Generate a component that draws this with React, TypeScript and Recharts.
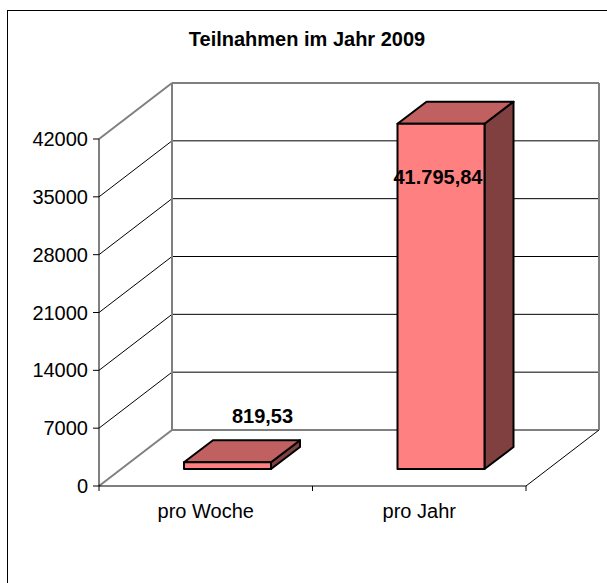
import { Bar, BarChart, CartesianGrid, LabelList, XAxis, YAxis } from "recharts";

const categories = ["pro Woche", "pro Jahr"];
const teilnahmen = [819.53, 41795.84];
const yTicks = [0, 7000, 14000, 21000, 28000, 35000, 42000];

const data = categories.map((name, i) => ({ name, value: teilnahmen[i] }));

const W = 607;
const H = 583;
const MARGIN = { top: 139, right: 81, bottom: 57, left: 0 };
const Y_AXIS_W = 99;
const X_AXIS_H = 40;
const PLOT_TOP = MARGIN.top;
const PLOT_BOTTOM = H - MARGIN.bottom - X_AXIS_H;
const PLOT_W = W - MARGIN.left - MARGIN.right - Y_AXIS_W;
const BAND = PLOT_W / categories.length;

// 3D projection offsets: back wall and bar depth
const DEPTH_X = 73;
const DEPTH_Y = 56;
const BAR_DX = 22;
const BAR_DY = 17;
const BAR_DEPTH_X = 29;
const BAR_DEPTH_Y = 22;

const FONT = '"Liberation Sans", Arial, Helvetica, sans-serif';
const WALL = "#808080";

const formatDe = (v: number): string => {
  const [int, dec] = v.toFixed(2).split(".");
  return `${int.replace(/\B(?=(\d{3})+(?!\d))/g, ".")},${dec}`;
};

// Each horizontal grid line becomes a side-wall diagonal plus a back-wall line.
const renderGridLine = (props: any) => {
  const { x1, y1, x2, index } = props;
  const isTop = Math.abs(y1 - PLOT_TOP) < 1;
  const isFloor = Math.abs(y1 - PLOT_BOTTOM) < 1;
  const edge = isTop || isFloor;
  const bx1 = x1 + DEPTH_X;
  const bx2 = x2 + DEPTH_X;
  const by = y1 - DEPTH_Y;
  const stroke = edge ? WALL : "#000";
  const sw = edge ? 2 : 1;
  return (
    <g key={`grid-${index}`}>
      <line x1={x1} y1={y1} x2={bx1} y2={by} stroke={stroke} strokeWidth={sw} />
      <line x1={bx1} y1={by} x2={bx2} y2={by} stroke={stroke} strokeWidth={sw} />
      {isTop && (
        <>
          <line x1={bx1} y1={by} x2={bx1} y2={PLOT_BOTTOM - DEPTH_Y} stroke={WALL} strokeWidth={2} />
          <line x1={bx2} y1={by} x2={bx2} y2={PLOT_BOTTOM - DEPTH_Y} stroke={WALL} strokeWidth={2} />
        </>
      )}
      {isFloor && <line x1={x2} y1={y1} x2={bx2} y2={by} stroke="#000" strokeWidth={1} />}
    </g>
  );
};

const Bar3D = (props: any) => {
  const { x, y, width, height } = props;
  const fx = x + BAR_DX;
  const fy = y - BAR_DY;
  const top = `${fx},${fy} ${fx + width},${fy} ${fx + width + BAR_DEPTH_X},${fy - BAR_DEPTH_Y} ${fx + BAR_DEPTH_X},${fy - BAR_DEPTH_Y}`;
  const side = `${fx + width},${fy} ${fx + width + BAR_DEPTH_X},${fy - BAR_DEPTH_Y} ${fx + width + BAR_DEPTH_X},${fy + height - BAR_DEPTH_Y} ${fx + width},${fy + height}`;
  return (
    <g strokeLinejoin="round">
      <polygon points={side} fill="#804040" stroke="#000" strokeWidth={2} />
      <polygon points={top} fill="#C06060" stroke="#000" strokeWidth={2} />
      <rect x={fx} y={fy} width={width} height={height} fill="#FF8080" stroke="#000" strokeWidth={2} />
    </g>
  );
};

const renderValueLabel = (props: any) => {
  const { x, y, width, height, value } = props;
  const cx = x + BAR_DX + width / 2;
  const fy = y - BAR_DY;
  const tall = height > 100;
  return (
    <text
      x={tall ? cx - 3 : cx + 35}
      y={tall ? fy + 53 : fy - 46}
      textAnchor="middle"
      dominantBaseline="central"
      fontFamily={FONT}
      fontSize={20}
      fontWeight="bold"
      fill="#000"
    >
      {formatDe(value)}
    </text>
  );
};

const CategoryTick = (props: any) => {
  const { x, y, payload } = props;
  const axisY = y - 6;
  return (
    <g>
      <line x1={x - BAND / 2} y1={axisY} x2={x - BAND / 2} y2={axisY + 5} stroke="#000" />
      <line x1={x + BAND / 2} y1={axisY} x2={x + BAND / 2} y2={axisY + 5} stroke="#000" />
      <text x={x} y={axisY + 32} textAnchor="middle" fontFamily={FONT} fontSize={20} fill="#000">
        {payload.value}
      </text>
    </g>
  );
};

export default function App() {
  return (
    <div
      style={{
        position: "absolute",
        left: 0,
        top: 0,
        width: W,
        height: H,
        overflow: "hidden",
        background: "#fff",
        fontFamily: FONT,
      }}
    >
      <div
        style={{
          position: "absolute",
          left: 7,
          top: 10,
          width: 640,
          height: 620,
          border: "1px solid #000",
        }}
      />
      <div
        style={{
          position: "absolute",
          left: 0,
          top: 29,
          width: 614,
          textAlign: "center",
          fontSize: 20,
          lineHeight: "20px",
          fontWeight: "bold",
          color: "#000",
        }}
      >
        Teilnahmen im Jahr 2009
      </div>
      <div style={{ position: "absolute", left: 0, top: 0 }}>
        <BarChart width={W} height={H} data={data} margin={MARGIN}>
          <CartesianGrid vertical={false} horizontal={renderGridLine} />
          <XAxis
            dataKey="name"
            height={X_AXIS_H}
            tickLine={false}
            tickSize={6}
            tickMargin={0}
            interval={0}
            axisLine={{ stroke: "#000", strokeWidth: 1 }}
            tick={<CategoryTick />}
          />
          <YAxis
            type="number"
            domain={[0, 42000]}
            ticks={yTicks}
            interval={0}
            width={Y_AXIS_W}
            tickSize={6}
            tickMargin={5}
            axisLine={{ stroke: "#000", strokeWidth: 1 }}
            tickLine={{ stroke: "#000" }}
            tick={{ fontSize: 20, fill: "#000", fontFamily: FONT }}
          />
          <Bar dataKey="value" barSize={87} shape={<Bar3D />} isAnimationActive={false}>
            <LabelList dataKey="value" content={renderValueLabel} />
          </Bar>
        </BarChart>
      </div>
    </div>
  );
}
